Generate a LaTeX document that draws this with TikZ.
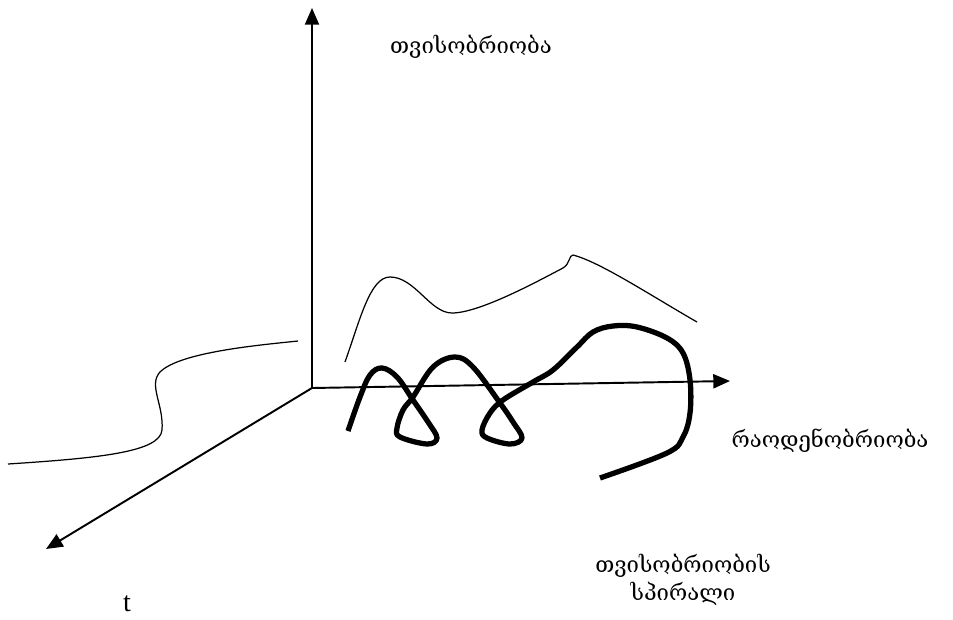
\documentclass[tikz,border=0pt]{standalone}
\usepackage{fontspec}
\setmainfont{Liberation Serif}
\newfontfamily\geofont{DejaVu Serif}
\usetikzlibrary{arrows.meta, positioning}

\begin{document}
\begin{tikzpicture}[x=0.02cm, y=-0.02cm,
    axis/.style={draw, line width=1.1pt, -{Triangle[length=9.5pt, width=8pt]}},
    thin curve/.style={draw, line width=0.7pt},
    spiral curve/.style={draw, line width=3pt, line cap=butt, line join=round},
    label/.style={font=\geofont\fontsize{12.6}{16}\selectfont, align=center, inner sep=0pt}
]
    \useasboundingbox (0,0) rectangle (953,619);

    % Axes
    \coordinate (O) at (312,388);
    \coordinate (qtop) at (312,8);
    \coordinate (qright) at (730,381);
    \coordinate (tend) at (46,549);
    \draw[axis] (O) -- (qtop);
    \draw[axis] (O) -- (qright);
    \draw[axis] (O) -- (tend);

    % Labels
    \node[label] (quality) at (471,47) {თვისობრიობა};
    \node[label] (quantity) at (830,441) {რაოდენობრიობა};
    \node[label] (spiral) at (683,580) {თვისობრიობის\\სპირალი};
    \node[font=\fontsize{16}{18}\selectfont, inner sep=0pt] (taxis) at (127,604) {t};

    % Thin curves
    \draw[thin curve] (8,464) .. controls (100,458) and (160,452) .. (162,430)
        .. controls (164,405) and (148,385) .. (160,372)
        .. controls (180,352) and (260,345) .. (298,341);
    \draw[thin curve] (345,362) .. controls (360,320) and (370,277) .. (390,277)
        .. controls (415,277) and (430,313) .. (452,313)
        .. controls (480,313) and (540,280) .. (563,268)
        .. controls (570,264) and (569,255) .. (573,255)
        .. controls (600,262) and (650,295) .. (697,322);

    % Spiral
    \draw[spiral curve] plot[smooth, tension=0.6] coordinates {
        (348,431) (360,397) (370,375) (382,368) (397,377) (413,400) (428,422)
        (437,438) (427,444) (400,437) (397,428) (403,410) (413,397) (433,367)
        (455,357) (473,367) (500,403) (513,422) (522,438) (510,444) (487,438)
        (482,430) (490,413) (503,400) (533,382) (553,370) (577,347) (593,332)
        (613,326) (637,327) (667,338) (683,353) (690,380) (690,413) (683,437)
        (667,453) (600,478)};
\end{tikzpicture}
\end{document}
